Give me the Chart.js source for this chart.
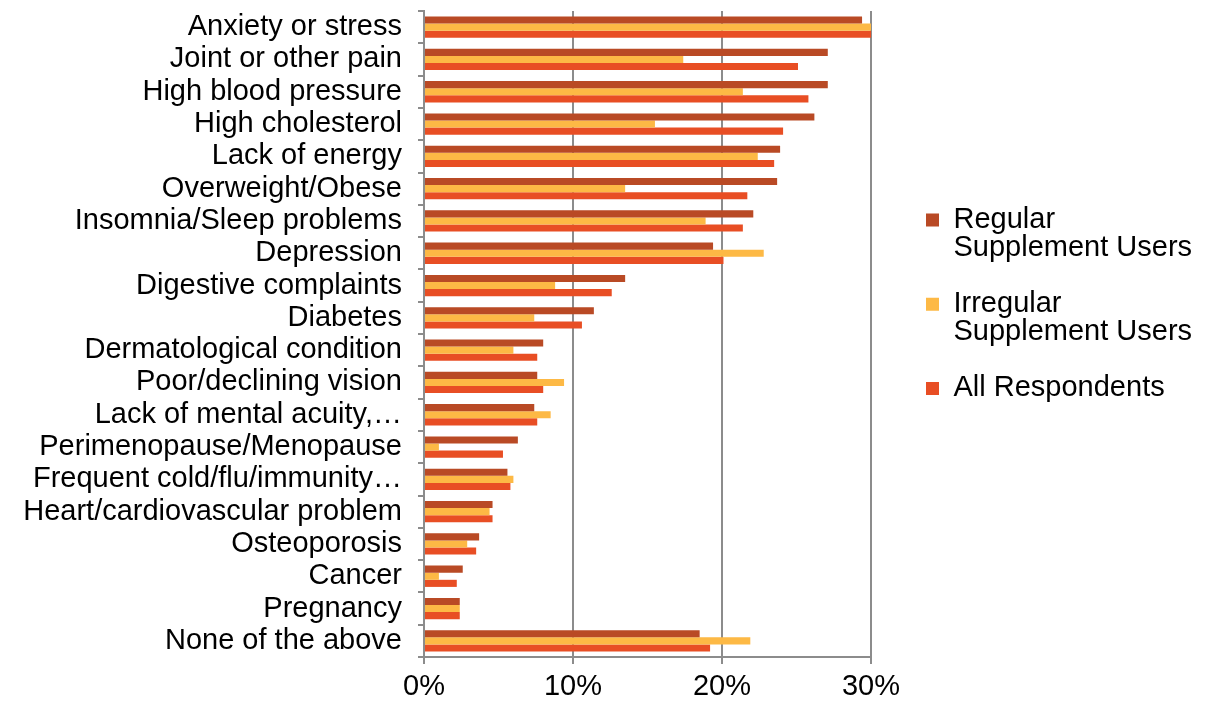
<!DOCTYPE html>
<html>
<head>
<meta charset="utf-8">
<script src="https://cdn.jsdelivr.net/npm/chart.js@4/dist/chart.umd.min.js"></script>
<style>
  html, body { margin: 0; padding: 0; background: #fff; }
  #wrap { width: 1213px; height: 702px; }
</style>
</head>
<body>
<div id="wrap"><canvas id="barchart"></canvas></div>
<script>
const conditions = [
  "Anxiety or stress",
  "Joint or other pain",
  "High blood pressure",
  "High cholesterol",
  "Lack of energy",
  "Overweight/Obese",
  "Insomnia/Sleep problems",
  "Depression",
  "Digestive complaints",
  "Diabetes",
  "Dermatological condition",
  "Poor/declining vision",
  "Lack of mental acuity,\u2026",
  "Perimenopause/Menopause",
  "Frequent cold/flu/immunity\u2026",
  "Heart/cardiovascular problem",
  "Osteoporosis",
  "Cancer",
  "Pregnancy",
  "None of the above"
];

// percent of respondents reporting each condition
const regularUsers   = [29.4, 27.1, 27.1, 26.2, 23.9, 23.7, 22.1, 19.4, 13.5, 11.4, 8.0, 7.6, 7.4, 6.3, 5.6, 4.6, 3.7, 2.6, 2.4, 18.5];
const irregularUsers = [30.2, 17.4, 21.4, 15.5, 22.4, 13.5, 18.9, 22.8, 8.8, 7.4, 6.0, 9.4, 8.5, 1.0, 6.0, 4.4, 2.9, 1.0, 2.4, 21.9];
const allRespondents = [30.1, 25.1, 25.8, 24.1, 23.5, 21.7, 21.4, 20.1, 12.6, 10.6, 7.6, 8.0, 7.6, 5.3, 5.8, 4.6, 3.5, 2.2, 2.4, 19.2];

const seriesNames = [
  ["Regular", "Supplement Users"],
  ["Irregular", "Supplement Users"],
  ["All Respondents"]
];
const seriesColors = ["#B94A25", "#FDB945", "#E84E24"];
const axisMax = 30;
const axisStep = 10;

Chart.defaults.font.family = "'Liberation Sans', Arial, Helvetica, sans-serif";
Chart.defaults.color = "#000";

const ctx = document.getElementById("barchart").getContext("2d");
const gridGray = "#8c8c8c";

// push the legend column a little away from the plot
const legendGap = {
  id: "legendGap",
  afterLayout(chart) {
    chart.legend.left += 27;
    chart.legend.right += 27;
  }
};

new Chart(ctx, {
  type: "bar",
  data: {
    labels: conditions,
    datasets: [
      { label: seriesNames[0], data: regularUsers, backgroundColor: seriesColors[0] },
      { label: seriesNames[1], data: irregularUsers, backgroundColor: seriesColors[1] },
      { label: seriesNames[2], data: allRespondents, backgroundColor: seriesColors[2] }
    ]
  },
  plugins: [legendGap],
  options: {
    indexAxis: "y",
    responsive: true,
    maintainAspectRatio: false,
    animation: false,
    datasets: {
      bar: { categoryPercentage: 0.66, barPercentage: 1.0 }
    },
    layout: { padding: { top: 11 } },
    scales: {
      x: {
        min: 0,
        max: axisMax,
        ticks: {
          stepSize: axisStep,
          callback: (v) => v + "%",
          font: { size: 29, lineHeight: 1.0 },
          padding: 8
        },
        grid: { color: gridGray, lineWidth: 2, tickLength: 7 },
        border: { color: gridGray, width: 2 },
        // leave room on the right for the legend column
        afterFit(scale) {
          scale.paddingRight = 342;
          scale.height = 45;
        }
      },
      y: {
        ticks: { font: { size: 29 }, padding: 16, autoSkip: false },
        grid: { drawOnChartArea: false, color: gridGray, lineWidth: 2, tickLength: 6 },
        border: { color: gridGray, width: 2 },
        afterFit(scale) {
          scale.width = 424;
          scale.paddingTop = 0;
          scale.paddingBottom = 0;
        }
      }
    },
    plugins: {
      legend: {
        position: "right",
        align: "start",
        title: { display: true, text: "", padding: { top: 0, bottom: 152 } },
        labels: {
          boxWidth: 13,
          boxHeight: 13,
          padding: 28,
          font: { size: 29, lineHeight: 0.97 }
        }
      },
      tooltip: { enabled: false }
    }
  }
});
</script>
</body>
</html>
